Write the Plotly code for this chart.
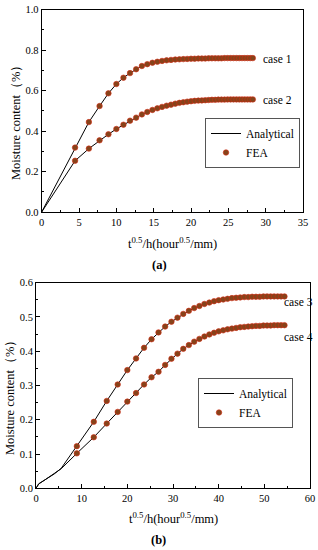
import plotly.graph_objects as go

# ---------------- data: panel (a) ----------------
x_a = [4.47, 6.32, 7.75, 8.94, 10.0, 10.95, 11.83, 12.65, 13.42, 14.14,
       14.83, 15.49, 16.12, 16.73, 17.32, 17.89, 18.44, 18.97, 19.49, 20.0,
       20.49, 20.98, 21.45, 21.91, 22.36, 22.80, 23.24, 23.66, 24.08, 24.49,
       24.90, 25.30, 25.69, 26.08, 26.46, 26.83, 27.20, 27.57, 27.93, 28.28]
case1 = [0.318, 0.444, 0.523, 0.586, 0.632, 0.663, 0.686, 0.705, 0.721, 0.730,
         0.737, 0.742, 0.746, 0.749, 0.751, 0.753, 0.754, 0.755, 0.756, 0.757,
         0.757, 0.758, 0.758, 0.758, 0.759, 0.759, 0.759, 0.759, 0.759, 0.760,
         0.760, 0.760, 0.760, 0.760, 0.760, 0.760, 0.760, 0.760, 0.760, 0.760]
case2 = [0.253, 0.313, 0.354, 0.384, 0.410, 0.431, 0.451, 0.466, 0.482, 0.494,
         0.504, 0.512, 0.519, 0.525, 0.530, 0.535, 0.539, 0.542, 0.545, 0.547,
         0.549, 0.550, 0.551, 0.552, 0.553, 0.554, 0.554, 0.555, 0.555, 0.555,
         0.556, 0.556, 0.556, 0.556, 0.556, 0.556, 0.556, 0.556, 0.556, 0.556]
lead_x_a = [0.0]
lead_case1 = [0.0]
lead_case2 = [0.0]

# ---------------- data: panel (b) ----------------
x_b = [8.94, 12.65, 15.49, 17.89, 20.0, 21.91, 23.66, 25.30, 26.83, 28.28,
       29.66, 30.98, 32.25, 33.47, 34.64, 35.78, 36.88, 37.95, 38.99, 40.0,
       40.99, 41.95, 42.90, 43.82, 44.72, 45.61, 46.48, 47.33, 48.17, 48.99,
       49.80, 50.60, 51.38, 52.15, 52.92, 53.67, 54.41]
case3 = [0.123, 0.194, 0.255, 0.303, 0.345, 0.379, 0.410, 0.435, 0.455, 0.472,
         0.486, 0.498, 0.509, 0.518, 0.526, 0.532, 0.538, 0.542, 0.546, 0.549,
         0.551, 0.553, 0.555, 0.556, 0.557, 0.558, 0.558, 0.559, 0.559, 0.559,
         0.560, 0.560, 0.560, 0.560, 0.560, 0.560, 0.560]
case4 = [0.102, 0.149, 0.189, 0.223, 0.253, 0.278, 0.303, 0.324, 0.340, 0.360,
         0.378, 0.393, 0.407, 0.418, 0.428, 0.436, 0.443, 0.449, 0.454, 0.458,
         0.461, 0.464, 0.466, 0.468, 0.470, 0.471, 0.472, 0.473, 0.474, 0.474,
         0.475, 0.475, 0.475, 0.476, 0.476, 0.476, 0.476]
lead_x_b = [0.0, 0.6, 2.0, 4.0, 5.5]
lead_case3 = [0.0, 0.013, 0.025, 0.042, 0.058]
lead_case4 = [0.0, 0.013, 0.025, 0.042, 0.057]

x_ticks_a = [0, 5, 10, 15, 20, 25, 30, 35]
y_ticks_a = [0.0, 0.2, 0.4, 0.6, 0.8, 1.0]
x_ticks_b = [0, 10, 20, 30, 40, 50, 60]
y_ticks_b = [0.0, 0.1, 0.2, 0.3, 0.4, 0.5, 0.6]

FONT = "Liberation Serif"
LINE = dict(color="black", width=1)
MARK = dict(size=5.5, color="#86431a", line=dict(color="#d42a12", width=0.6))

fig = go.Figure()

# panel (a)
fig.add_trace(go.Scatter(x=lead_x_a + x_a, y=lead_case1 + case1, mode="lines", line=LINE,
                         name="Analytical", legend="legend", xaxis="x", yaxis="y"))
fig.add_trace(go.Scatter(x=lead_x_a + x_a, y=lead_case2 + case2, mode="lines", line=LINE,
                         name="Analytical", showlegend=False, xaxis="x", yaxis="y"))
fig.add_trace(go.Scatter(x=x_a, y=case1, mode="markers", marker=MARK,
                         name="FEA", legend="legend", xaxis="x", yaxis="y"))
fig.add_trace(go.Scatter(x=x_a, y=case2, mode="markers", marker=MARK,
                         name="FEA", showlegend=False, xaxis="x", yaxis="y"))

# panel (b)
fig.add_trace(go.Scatter(x=lead_x_b + x_b, y=lead_case3 + case3, mode="lines", line=LINE,
                         name="Analytical", legend="legend2", xaxis="x2", yaxis="y2"))
fig.add_trace(go.Scatter(x=lead_x_b + x_b, y=lead_case4 + case4, mode="lines", line=LINE,
                         name="Analytical", showlegend=False, xaxis="x2", yaxis="y2"))
fig.add_trace(go.Scatter(x=x_b, y=case3, mode="markers", marker=MARK,
                         name="FEA", legend="legend2", xaxis="x2", yaxis="y2"))
fig.add_trace(go.Scatter(x=x_b, y=case4, mode="markers", marker=MARK,
                         name="FEA", showlegend=False, xaxis="x2", yaxis="y2"))

W, H = 318, 550
def px(v):
    return v / W
def py(v):
    return 1 - v / H

axis_common = dict(showline=True, linecolor="black", linewidth=1, mirror=True,
                   ticks="inside", ticklen=4, tickwidth=1, tickcolor="black",
                   showgrid=False, zeroline=False, automargin=False,
                   tickfont=dict(family=FONT, size=10.5, color="black"))

fig.update_layout(
    width=W, height=H, margin=dict(l=0, r=0, t=0, b=0, autoexpand=False),
    paper_bgcolor="white", plot_bgcolor="white",
    font=dict(family=FONT, color="black"),
    xaxis=dict(domain=[px(41.7), px(303)], range=[0, 35], tickvals=x_ticks_a,
               ticktext=[str(v) for v in x_ticks_a], anchor="y",
               minor=dict(ticks="inside", ticklen=2, dtick=2.5, tickcolor="black"),
               **axis_common),
    yaxis=dict(domain=[py(212), py(9.5)], range=[0, 1.0], tickvals=y_ticks_a,
               ticktext=[f"{v:.1f}" for v in y_ticks_a], anchor="x",
               minor=dict(ticks="inside", ticklen=2, dtick=0.1, tickcolor="black"),
               **axis_common),
    xaxis2=dict(domain=[px(36), px(310)], range=[0, 60], tickvals=x_ticks_b,
                ticktext=[str(v) for v in x_ticks_b], anchor="y2",
                minor=dict(ticks="inside", ticklen=2, dtick=5, tickcolor="black"),
                **axis_common),
    yaxis2=dict(domain=[py(488.3), py(282.7)], range=[0, 0.6], tickvals=y_ticks_b,
                ticktext=[f"{v:.1f}" for v in y_ticks_b], anchor="x2",
                minor=dict(ticks="inside", ticklen=2, dtick=0.05, tickcolor="black"),
                **axis_common),
    legend=dict(x=px(205), y=py(118), xanchor="left", yanchor="top",
                bordercolor="#555555", borderwidth=1, bgcolor="white",
                font=dict(family=FONT, size=11.5, color="black"), tracegroupgap=0),
    legend2=dict(x=px(198), y=py(378), xanchor="left", yanchor="top",
                 bordercolor="#555555", borderwidth=1, bgcolor="white",
                 font=dict(family=FONT, size=11.5, color="black"), tracegroupgap=0),
)

ann = []
def txt(text, x, y, size=12.5, angle=0, xanchor="center"):
    ann.append(dict(text=text, x=x, y=y, xref="paper", yref="paper", showarrow=False,
                    textangle=angle, xanchor=xanchor, yanchor="middle",
                    font=dict(family=FONT, size=size, color="black")))

xtitle = "t<sup>0.5</sup>/h(hour<sup>0.5</sup>/mm)"
ytitle = "Moisture content（%）"
txt(xtitle, px(172), py(243))
txt("<b>(a)</b>", px(159), py(265))
txt(ytitle, px(16), py(120), angle=-90)
txt(xtitle, px(173), py(518))
txt("<b>(b)</b>", px(158), py(540))
txt(ytitle, px(10), py(395), angle=-90)

fig.update_layout(annotations=ann)
for text, xv, yv, xr, yr in [("case 1", 29.4, 0.757, "x", "y"),
                             ("case 2", 29.4, 0.553, "x", "y"),
                             ("case 3", 53.8, 0.545, "x2", "y2"),
                             ("case 4", 53.8, 0.441, "x2", "y2")]:
    fig.add_annotation(text=text, x=xv, y=yv, xref=xr, yref=yr, showarrow=False,
                       xanchor="left", font=dict(family=FONT, size=11.5, color="black"))

fig.write_html("out.html", config={"displayModeBar": False},
               post_script="document.body.style.margin='0';document.body.style.overflow='hidden';")
